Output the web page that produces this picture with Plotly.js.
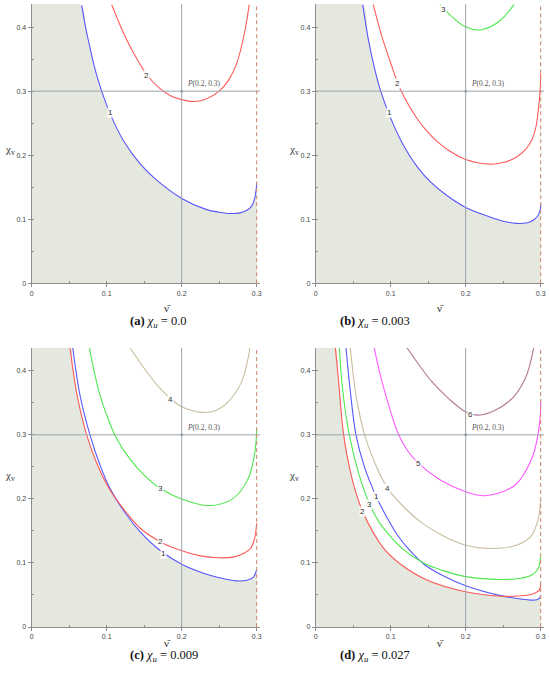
<!DOCTYPE html>
<html><head><meta charset="utf-8">
<script src="https://cdn.plot.ly/plotly-3.0.1.min.js"></script>
<style>html,body{margin:0;padding:0;background:#fff}</style>
</head><body><div id="chart" style="width:550px;height:675px"></div>
<script>
// ---- data ----
const captions = ['a','b','c','d'];
const chiU = ['0.0','0.003','0.009','0.027'];
const xTicks = [0, 0.1, 0.2, 0.3];
const yTicks = [0, 0.1, 0.2, 0.3, 0.4];
const pointP = [0.2, 0.3];

// panel (a) chi_u = 0.0
const a1x=[0.0667,0.072,0.0777,0.085,0.0933,0.1053,0.1222,0.1444,0.1667,0.2,0.2333,0.25,0.265,0.278,0.287,0.293,0.297,0.2995,0.3];
const a1y=[0.434,0.399,0.368,0.332,0.30,0.263,0.223,0.187,0.161,0.1325,0.115,0.111,0.109,0.110,0.114,0.12,0.131,0.148,0.157];
const a2x=[0.1067,0.122,0.1347,0.1533,0.17,0.185,0.2,0.2155,0.232,0.25,0.263,0.2733,0.2844,0.290];
const a2y=[0.435,0.392,0.362,0.326,0.305,0.293,0.2868,0.2838,0.2875,0.30,0.318,0.343,0.3947,0.435];
const aLblX=[0.1053,0.1533], aLblY=[0.266,0.324], aLblT=['1','2'];

// panel (b) chi_u = 0.003
const b1x=[0.0627,0.07,0.078,0.0867,0.0982,0.1168,0.1347,0.1524,0.175,0.2,0.2324,0.25,0.268,0.282,0.2901,0.296,0.2995,0.3];
const b1y=[0.435,0.382,0.338,0.30,0.263,0.216,0.183,0.159,0.137,0.1184,0.1035,0.097,0.0935,0.0945,0.0985,0.105,0.115,0.125];
const b2x=[0.0769,0.083,0.0902,0.1,0.1124,0.1347,0.148,0.1613,0.18,0.2,0.2324,0.25,0.268,0.28,0.288,0.2935,0.2968,0.2992,0.3];
const b2y=[0.435,0.407,0.378,0.344,0.304,0.258,0.238,0.222,0.2055,0.1932,0.186,0.1885,0.1973,0.209,0.2233,0.243,0.27,0.30,0.327];
const b3x=[0.1658,0.18,0.2,0.2213,0.2457,0.2644];
const b3y=[0.435,0.418,0.40,0.396,0.410,0.435];
const bLblX=[0.0982,0.1089,0.170], bLblY=[0.266,0.3127,0.427], bLblT=['1','2','3'];

// panel (c) chi_u = 0.009
const c1x=[0.0547,0.0644,0.0777,0.0911,0.1044,0.1267,0.1444,0.1689,0.2,0.229,0.25,0.273,0.287,0.295,0.3];
const c1y=[0.436,0.362,0.30,0.2528,0.2164,0.1748,0.1488,0.1217,0.098,0.084,0.077,0.072,0.073,0.077,0.089];
const c2x=[0.0511,0.0605,0.0733,0.088,0.1044,0.1267,0.1444,0.1711,0.1933,0.225,0.249,0.27,0.283,0.292,0.297,0.3];
const c2y=[0.436,0.362,0.30,0.252,0.214,0.178,0.1545,0.1332,0.1217,0.111,0.108,0.1095,0.115,0.123,0.137,0.162];
const c3x=[0.0769,0.085,0.0911,0.1,0.1124,0.1311,0.15,0.1711,0.2,0.2355,0.2688,0.2888,0.2977,0.3];
const c3y=[0.436,0.39,0.362,0.331,0.296,0.262,0.237,0.2165,0.1998,0.1894,0.2008,0.232,0.2736,0.31];
const c4x=[0.1311,0.1533,0.17,0.1857,0.2,0.2267,0.245,0.26,0.28,0.2911];
const c4y=[0.436,0.3985,0.374,0.356,0.3438,0.335,0.3375,0.349,0.383,0.436];
const cLblX=[0.1756,0.1711,0.1711,0.1857], cLblY=[0.114,0.1332,0.2165,0.355], cLblT=['1','2','3','4'];

// panel (d) chi_u = 0.027
const d1x=[0.0404,0.046,0.0537,0.065,0.0808,0.095,0.1089,0.124,0.1444,0.17,0.2,0.2467,0.275,0.2867,0.295,0.2985,0.3];
const d1y=[0.436,0.37,0.30,0.25,0.2034,0.171,0.1436,0.1215,0.098,0.08,0.0645,0.049,0.0435,0.042,0.0425,0.045,0.05];
const d2x=[0.0262,0.030,0.0373,0.0484,0.0627,0.0907,0.1133,0.149,0.2,0.2467,0.27,0.284,0.294,0.2985,0.3];
const d2y=[0.436,0.39,0.30,0.232,0.18,0.1228,0.098,0.073,0.055,0.048,0.0483,0.050,0.054,0.058,0.0656];
const d3x=[0.0315,0.036,0.0448,0.058,0.072,0.085,0.1,0.1151,0.1444,0.17,0.2,0.238,0.2733,0.289,0.2965,0.3];
const d3y=[0.436,0.37,0.30,0.237,0.1915,0.163,0.141,0.1228,0.0994,0.088,0.0786,0.0744,0.076,0.082,0.091,0.11];
const d4x=[0.0462,0.054,0.0653,0.08,0.096,0.1195,0.1417,0.1667,0.185,0.2,0.2267,0.2644,0.2867,0.2964,0.3];
const d4y=[0.436,0.36,0.30,0.253,0.2164,0.185,0.1625,0.1445,0.134,0.1275,0.1228,0.1264,0.141,0.167,0.198];
const d5x=[0.078,0.0884,0.1107,0.122,0.1373,0.1667,0.2,0.2261,0.2661,0.2884,0.2964,0.2995,0.3];
const d5y=[0.436,0.383,0.30,0.276,0.2554,0.229,0.2112,0.205,0.2216,0.2633,0.30,0.33,0.352];
const d6x=[0.1217,0.155,0.177,0.2,0.2195,0.2573,0.2795,0.2907];
const d6y=[0.436,0.3829,0.357,0.336,0.3309,0.3516,0.388,0.436];
const dLblX=[0.0808,0.0627,0.072,0.096,0.1373,0.2061], dLblY=[0.2034,0.18,0.1915,0.2164,0.2554,0.3324], dLblT=['1','2','3','4','5','6'];

// ---- styles ----
const colors = {'1':'#5757ff','2':'#ff5a5a','3':'#4ee84e','4':'#c8bd9f','5':'#ff58ff','6':'#b07896'};
const shadeColor = '#e4e8de';
const xMax = 0.3044, yMax = 0.436;

const panels = [
  {curves:[['1',a1x,a1y],['2',a2x,a2y]], lx:aLblX, ly:aLblY, lt:aLblT},
  {curves:[['1',b1x,b1y],['2',b2x,b2y],['3',b3x,b3y]], lx:bLblX, ly:bLblY, lt:bLblT},
  {curves:[['1',c1x,c1y],['2',c2x,c2y],['3',c3x,c3y],['4',c4x,c4y]], lx:cLblX, ly:cLblY, lt:cLblT},
  {curves:[['1',d1x,d1y],['2',d2x,d2y],['3',d3x,d3y],['4',d4x,d4y],['5',d5x,d5y],['6',d6x,d6y]], lx:dLblX, ly:dLblY, lt:dLblT}
];
const xDom = [[0.0576,0.4727],[0.574,0.989],[0.0576,0.4727],[0.574,0.989]];
const yDom = [[0.5803,0.994],[0.5803,0.994],[0.0711,0.4849],[0.0711,0.4849]];

function interp(xs, ys, x){
  if (x < xs[0] || x > xs[xs.length-1]) return Infinity;
  for (let i=0;i<xs.length-1;i++){
    if (x>=xs[i] && x<=xs[i+1]){
      const t=(x-xs[i])/(xs[i+1]-xs[i]); return ys[i]+t*(ys[i+1]-ys[i]);
    }
  }
  return Infinity;
}

const data=[], annotations=[], shapes=[];
const layout = {width:550, height:675, margin:{l:0,r:0,t:0,b:0}, paper_bgcolor:'#fff', plot_bgcolor:'#fff', showlegend:false};

panels.forEach((p,i)=>{
  const n = i===0?'':String(i+1);
  const xa='x'+n, ya='y'+n;
  // shading: lower envelope of the curves
  let xs=[0];
  p.curves.forEach(c=>c[1].forEach(v=>xs.push(v)));
  xs=[...new Set(xs)].sort((a,b)=>a-b).filter(v=>v<=0.3);
  const env = xs.map(x=>{
    let m=Infinity; p.curves.forEach(c=>{m=Math.min(m,interp(c[1],c[2],x));});
    return Math.min(m,yMax);
  });
  data.push({x:xs,y:env,xaxis:xa,yaxis:ya,mode:'lines',line:{width:0,shape:'spline',smoothing:0.8},fill:'tozeroy',fillcolor:shadeColor,hoverinfo:'skip'});
  p.curves.forEach(c=>{
    data.push({x:c[1],y:c[2],xaxis:xa,yaxis:ya,mode:'lines',line:{color:colors[c[0]],width:1.1,shape:'spline',smoothing:1},hoverinfo:'skip'});
  });
  data.push({x:[pointP[0]],y:[pointP[1]],xaxis:xa,yaxis:ya,mode:'markers',marker:{size:2.5,color:'#666'},hoverinfo:'skip'});
  const axCommon = {showline:true, linecolor:'#8c8c8c', linewidth:1, ticks:'outside', ticklen:3, tickcolor:'#8c8c8c',
    showgrid:false, zeroline:false, fixedrange:true, tickfont:{family:'Liberation Sans, Arial', size:7, color:'#444'},
    minor:{dtick:0.05, tick0:0, ticks:'inside', ticklen:2, tickcolor:'#8c8c8c', showgrid:false}};
  layout['xaxis'+n] = Object.assign({}, axCommon, {domain:xDom[i], anchor:ya, range:[0,xMax], tickmode:'array', tickvals:xTicks, ticktext:xTicks.map(String)});
  layout['yaxis'+n] = Object.assign({}, axCommon, {domain:yDom[i], anchor:xa, range:[0,yMax], tickmode:'array', tickvals:yTicks, ticktext:yTicks.map(String)});
  // reference lines through P and asymptote
  shapes.push({type:'line',xref:xa,yref:ya+' domain',x0:pointP[0],x1:pointP[0],y0:0,y1:1,line:{color:'#9aa3ad',width:1}});
  shapes.push({type:'line',xref:xa+' domain',yref:ya,x0:0,x1:1,y0:pointP[1],y1:pointP[1],line:{color:'#9aa3ad',width:1}});
  shapes.push({type:'line',xref:xa,yref:ya+' domain',x0:xTicks[3],x1:xTicks[3],y0:0,y1:1,line:{color:'#cf8f78',width:1.1,dash:'4px,3px'}});
  // curve labels
  p.lt.forEach((t,k)=>{
    annotations.push({xref:xa,yref:ya,x:p.lx[k],y:p.ly[k],text:t,showarrow:false,bgcolor:'rgba(255,255,255,0.9)',borderpad:0,
      font:{family:'Liberation Sans, Arial',size:8,color:'#333'}});
  });
  annotations.push({xref:xa,yref:ya,x:pointP[0],y:pointP[1],xanchor:'left',yanchor:'bottom',xshift:3,yshift:1,showarrow:false,
    text:'<i>P</i>(0.2, 0.3)',font:{family:'Liberation Serif, serif',size:7.5,color:'#555'}});
  // axis titles
  const xd=xDom[i], yd=yDom[i];
  annotations.push({xref:'paper',yref:'paper',x:xd[0]-0.052,xanchor:'left',y:yd[0]+(yd[1]-yd[0])*0.51,text:'χ<sub>v</sub>',showarrow:false,
    font:{family:'Liberation Serif, serif',size:11,color:'#333'}});
  annotations.push({xref:'paper',yref:'paper',x:xd[0]+(xd[1]-xd[0])*0.57,y:yd[0]-0.036,text:'ν\u0304',showarrow:false,
    font:{family:'Liberation Serif, serif',size:11,color:'#333'}});
  annotations.push({xref:'paper',yref:'paper',x:xd[0]+(xd[1]-xd[0])*0.42,y:yd[0]-0.058,text:'<b>('+captions[i]+')</b> <i>χ<sub>u</sub></i> = '+chiU[i],showarrow:false,
    font:{family:'Liberation Serif, serif',size:12.5,color:'#111'}});
});
layout.annotations=annotations;
layout.shapes=shapes;
Plotly.newPlot('chart',data,layout,{staticPlot:true,displayModeBar:false});
</script></body></html>
